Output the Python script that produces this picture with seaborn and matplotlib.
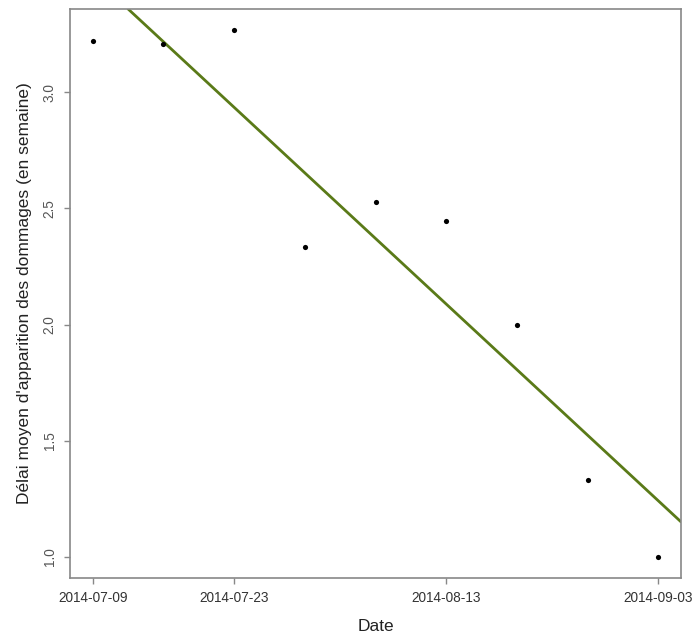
import numpy as np
import pandas as pd
import matplotlib
matplotlib.use("Agg")
import matplotlib.pyplot as plt
import matplotlib.dates as mdates
import seaborn as sns

dates = ["2014-07-09", "2014-07-16", "2014-07-23", "2014-07-30", "2014-08-06",
         "2014-08-13", "2014-08-20", "2014-08-27", "2014-09-03"]
delai = [3.222, 3.208, 3.267, 2.333, 2.526, 2.444, 2.0, 1.333, 1.0]
xtick_labels = ["2014-07-09", "2014-07-23", "2014-08-13", "2014-09-03"]
ytick_values = [1.0, 1.5, 2.0, 2.5, 3.0]

sns.set_theme(style="white")
plt.rcParams['font.family'] = ['Liberation Sans', 'DejaVu Sans']

df = pd.DataFrame({"Date": pd.to_datetime(dates), "Delai": delai})
df["num"] = mdates.date2num(df["Date"])

fig = plt.figure(figsize=(6.96, 6.37), dpi=100)
ax = fig.add_axes([70/696, 1-578/637, (681-70)/696, (578-9)/637])

sns.scatterplot(data=df, x="num", y="Delai", ax=ax, color="black", s=14,
                edgecolor="black", linewidth=0, zorder=3)

slope, intercept = np.polyfit(df["num"], df["Delai"], 1)
ax.axline((df["num"].iloc[0], intercept + slope*df["num"].iloc[0]), slope=slope,
          color="#5a7a18", lw=2, zorder=2)

xmin, xmax = df["num"].min(), df["num"].max()
rx = xmax - xmin
ax.set_xlim(xmin - 0.04*rx, xmax + 0.04*rx)
ymin, ymax = min(delai), max(delai)
ry = ymax - ymin
ax.set_ylim(ymin - 0.04*ry, ymax + 0.04*ry)

ax.set_xticks(mdates.date2num(pd.to_datetime(xtick_labels)))
ax.set_xticklabels(xtick_labels)
ax.set_yticks(ytick_values)
ax.set_yticklabels([f"{v:.1f}" for v in ytick_values], rotation=90, va="center")

ax.tick_params(axis="both", direction="out", length=4.5, width=1, color="#888888",
               labelsize=9.8, bottom=True, left=True)
ax.tick_params(axis="x", labelcolor="#333333", pad=5)
ax.tick_params(axis="y", labelcolor="#555555", pad=5)
for s in ax.spines.values():
    s.set_color("#888888")
    s.set_linewidth(1.2)

ax.set_xlabel("Date", fontsize=12.5, color="#222222", labelpad=10)
ax.set_ylabel("Délai moyen d'apparition des dommages (en semaine)", fontsize=12.5,
              color="#222222", labelpad=8)
ax.grid(False)

fig.savefig("out.png", dpi=100)
